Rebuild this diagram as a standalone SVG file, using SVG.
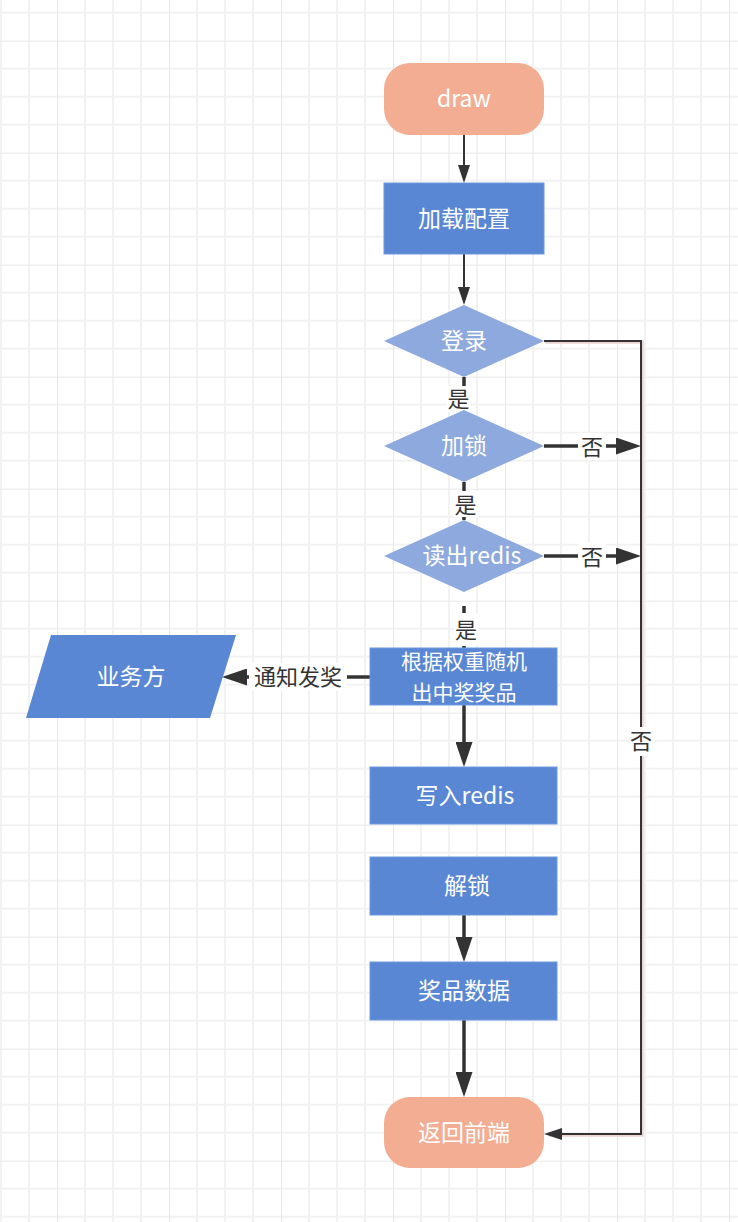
<svg xmlns="http://www.w3.org/2000/svg" width="738" height="1222" viewBox="0 0 738 1222">
<defs>
  <style>
    .term{fill:#f2ad92;}
    .proc{fill:#5987d4;stroke:#6e98dc;stroke-width:1;}
    .dec{fill:#8ea9de;}
    .io{fill:#5987d4;}
    .nt{font-family:"Noto Sans CJK SC","Liberation Sans",sans-serif;font-size:23px;fill:#ffffff;text-anchor:middle;dominant-baseline:central;}
    .nt2{font-size:21px;}
    .lt{font-family:"Noto Sans CJK SC","Liberation Sans",sans-serif;font-size:22px;fill:#333333;text-anchor:middle;dominant-baseline:central;}
    .thin{fill:none;stroke:#333333;stroke-width:2;}
    .thick{fill:none;stroke:#333333;stroke-width:3.5;}
    .lbg{fill:#ffffff;}
  </style>
  <pattern id="grid" x="57" y="40.7" width="112" height="112" patternUnits="userSpaceOnUse">
    <rect width="112" height="112" fill="#ffffff"/>
    <path d="M28 0V112M56 0V112M84 0V112M0 28H112M0 56H112M0 84H112" stroke="#f2f2f2" stroke-width="2" fill="none"/>
    <path d="M0 0V112M0 0H112" stroke="#e8e8e8" stroke-width="2.2" fill="none"/>
  </pattern>
  <marker id="aThin" markerUnits="userSpaceOnUse" markerWidth="18" markerHeight="12" refX="14" refY="6" orient="auto">
    <path d="M0 0L18 6L0 12z" fill="#333333"/>
  </marker>
  <marker id="aThick" markerUnits="userSpaceOnUse" markerWidth="25" markerHeight="17" refX="19" refY="8.5" orient="auto">
    <path d="M0 0L25 8.5L0 17z" fill="#333333"/>
  </marker>
</defs>
<rect x="0" y="0" width="738" height="1222" fill="url(#grid)"/>

<g id="connectors">
  <line class="thin" x1="464" y1="135" x2="464" y2="179" marker-end="url(#aThin)"/>
  <line class="thin" x1="464" y1="254" x2="464" y2="301" marker-end="url(#aThin)"/>
  <polyline points="545,342 642,342 642,1135 549,1135" fill="none" stroke="#ecd4d4" stroke-width="3.5"/>
  <polyline class="thin" points="544,341 641,341 641,1134 548,1134" marker-end="url(#aThin)"/>
  <line class="thick" x1="464" y1="377" x2="464" y2="410"/>
  <line class="thick" x1="464" y1="482" x2="464" y2="520"/>
  <line class="thick" x1="464" y1="606" x2="464" y2="648"/>
  <line class="thick" x1="544" y1="446" x2="635" y2="446" marker-end="url(#aThick)"/>
  <line class="thick" x1="544" y1="556" x2="635" y2="556" marker-end="url(#aThick)"/>
  <line class="thick" x1="370" y1="677" x2="228" y2="677" marker-end="url(#aThick)"/>
  <line class="thick" x1="464" y1="705" x2="464" y2="761" marker-end="url(#aThick)"/>
  <line class="thick" x1="464" y1="915" x2="464" y2="956" marker-end="url(#aThick)"/>
  <line class="thick" x1="464" y1="1020" x2="464" y2="1091" marker-end="url(#aThick)"/>
  <g id="labels">
    <rect class="lbg" x="447" y="386" width="24" height="26"/>
    <text class="lt" x="458.5" y="397">是</text>
    <rect class="lbg" x="453" y="491" width="25" height="26"/>
    <text class="lt" x="465.5" y="503">是</text>
    <rect class="lbg" x="454" y="613" width="24" height="33"/>
    <text class="lt" x="466" y="628">是</text>
    <rect class="lbg" x="578" y="433" width="28" height="27"/>
    <text class="lt" x="592" y="445">否</text>
    <rect class="lbg" x="578" y="543" width="28" height="27"/>
    <text class="lt" x="592" y="555">否</text>
    <rect class="lbg" x="629" y="727" width="25" height="29"/>
    <text class="lt" x="641" y="739">否</text>
    <rect class="lbg" x="249" y="663" width="98" height="28"/>
    <text class="lt" x="298" y="675">通知发奖</text>
  </g>
</g>

<g id="node-draw">
  <rect class="term" x="384" y="63" width="160" height="72" rx="26" ry="26"/>
  <text class="nt" x="464" y="97">draw</text>
</g>
<g id="node-load">
  <rect class="proc" x="384" y="183" width="160" height="71"/>
  <text class="nt" x="464" y="217">加载配置</text>
</g>
<g id="node-login">
  <polygon class="dec" points="464,305 544,341 464,377 384,341"/>
  <text class="nt" x="464" y="339">登录</text>
</g>
<g id="node-lock">
  <polygon class="dec" points="464,410 544,446 464,482 384,446"/>
  <text class="nt" x="464" y="444">加锁</text>
</g>
<g id="node-read">
  <polygon class="dec" points="464,520 544,556 464,592 384,556"/>
  <text class="nt" x="472" y="554">读出redis</text>
</g>
<g id="node-random">
  <rect class="proc" x="370" y="648" width="187" height="57"/>
  <text class="nt nt2" x="464" y="660">根据权重随机</text>
  <text class="nt nt2" x="464" y="691">出中奖奖品</text>
</g>
<g id="node-biz">
  <polygon class="io" points="51,635 236,635 210,718 26,718"/>
  <text class="nt" x="131" y="675">业务方</text>
</g>
<g id="node-write">
  <rect class="proc" x="370" y="767" width="187" height="57"/>
  <text class="nt" x="465" y="794">写入redis</text>
</g>
<g id="node-unlock">
  <rect class="proc" x="370" y="857" width="187" height="58"/>
  <text class="nt" x="467" y="884">解锁</text>
</g>
<g id="node-prize">
  <rect class="proc" x="370" y="962" width="187" height="58"/>
  <text class="nt" x="464" y="989">奖品数据</text>
</g>
<g id="node-return">
  <rect class="term" x="384" y="1097" width="160" height="71" rx="26" ry="26"/>
  <text class="nt" x="464" y="1131">返回前端</text>
</g>
</svg>
